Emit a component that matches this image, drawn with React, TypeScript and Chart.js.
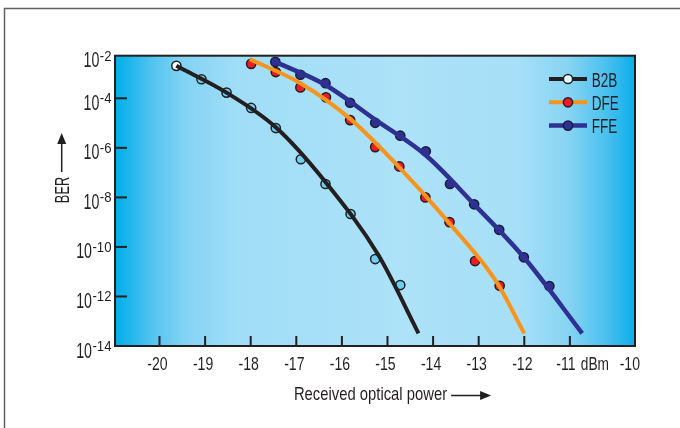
import { useEffect, useRef } from 'react';
import { Chart, registerables } from 'chart.js';

Chart.register(...registerables);

// ---------------- data ----------------
const seriesLabels = ['B2B', 'DFE', 'FFE'];

// measured points: received optical power (dBm) and log10(BER)
const b2bPower = [-19.63, -19.08, -18.53, -17.99, -17.45, -16.9, -16.36, -15.81, -15.27, -14.72];
const b2bLogBer = [-2.69, -3.23, -3.77, -4.39, -5.2, -6.46, -7.46, -8.67, -10.49, -11.54];
const dfePower = [-17.99, -17.45, -16.91, -16.35, -15.82, -15.27, -14.74, -14.17, -13.64, -13.08, -12.54];
const dfeLogBer = [-2.61, -2.94, -3.56, -3.96, -4.88, -5.97, -6.75, -8.0, -9.0, -10.57, -11.57];
const ffePower = [-17.46, -16.91, -16.36, -15.82, -15.27, -14.72, -14.16, -13.63, -13.1, -12.55, -12.01, -11.45];
const ffeLogBer = [-2.53, -3.05, -3.39, -4.18, -4.99, -5.51, -6.14, -7.46, -8.28, -9.31, -10.42, -11.58];

// fitted curves
const b2bFitPower = [-19.63, -18.53, -17.45, -16.36, -15.2, -14.32];
const b2bFitLogBer = [-2.69, -3.77, -5.17, -7.38, -10.33, -13.49];
const dfeFitPower = [-18.02, -16.91, -15.83, -14.74, -13.64, -12.61, -12.0];
const dfeFitLogBer = [-2.42, -3.39, -4.81, -6.79, -9.05, -11.41, -13.49];
const ffeFitPower = [-17.46, -16.36, -15.27, -14.16, -13.1, -12.01, -10.73];
const ffeFitLogBer = [-2.53, -3.46, -4.86, -6.3, -8.28, -10.42, -13.49];

// axes
const xTickValues = [-20, -19, -18, -17, -16, -15, -14, -13, -12, -11];
const xUnitLabel = 'dBm';
const xEndLabel = '-10';
const yTickExponents = [-2, -4, -6, -8, -10, -12, -14];
const xTitle = 'Received optical power';
const yTitle = 'BER';
const xMin = -20.976;
const xMax = -9.572;
const yMinExp = -14;
const yMaxExp = -2.28;

// ---------------- styles ----------------
const INK = '#231f20';
const FONT = '"Liberation Sans", Arial, sans-serif';
const lineColors = ['#231f20', '#f7941d', '#2e3192'];
const lineWidths = [4, 4, 4.5];
const markerFills = ['#6dcff6', '#ed1c24', '#2e3192'];
const markerBorders = ['#231f20', '#231f20', '#1b1b3a'];
const legendMarkerFills = ['#e4f6fd', '#ed1c24', '#2e3192'];

function toPoints(xs: number[], logs: number[]) {
  return xs.map((x, i) => ({ x, y: Math.pow(10, logs[i]) }));
}

function drawText(
  ctx: CanvasRenderingContext2D,
  s: string,
  x: number,
  y: number,
  size: number,
  sx: number,
  align: 'left' | 'center' | 'right',
  color: string = INK
) {
  ctx.save();
  ctx.font = `${size}px ${FONT}`;
  ctx.textBaseline = 'alphabetic';
  ctx.textAlign = 'left';
  const w = ctx.measureText(s).width * sx;
  const x0 = align === 'left' ? x : align === 'center' ? x - w / 2 : x - w;
  ctx.translate(x0, y);
  ctx.scale(sx, 1);
  ctx.fillStyle = color;
  ctx.fillText(s, 0, 0);
  ctx.restore();
  return w;
}

function arrowHead(ctx: CanvasRenderingContext2D, tipX: number, tipY: number, dx: number, dy: number, len: number, half: number) {
  const bx = tipX - dx * len;
  const by = tipY - dy * len;
  ctx.beginPath();
  ctx.moveTo(tipX, tipY);
  ctx.lineTo(bx - dy * half, by + dx * half);
  ctx.lineTo(bx + dy * half, by - dx * half);
  ctx.closePath();
  ctx.fill();
}

const decorPlugin = {
  id: 'decor',
  beforeDraw(chart: any) {
    const { ctx, chartArea: a } = chart;
    ctx.save();
    ctx.strokeStyle = '#5f6062';
    ctx.lineWidth = 1.5;
    ctx.beginPath();
    ctx.moveTo(4.5, chart.height);
    ctx.lineTo(4.5, 8.5);
    ctx.lineTo(chart.width, 8.5);
    ctx.stroke();
    const g = ctx.createLinearGradient(a.left, 0, a.right, 0);
    g.addColorStop(0, '#00aee9');
    g.addColorStop(0.025, '#1cb5ec');
    g.addColorStop(0.075, '#56c5f0');
    g.addColorStop(0.135, '#83d3f4');
    g.addColorStop(0.23, '#a0ddf7');
    g.addColorStop(0.548, '#ade2f8');
    g.addColorStop(0.779, '#a6dff7');
    g.addColorStop(0.87, '#88d4f3');
    g.addColorStop(0.94, '#4fc2ef');
    g.addColorStop(1, '#0caeea');
    ctx.fillStyle = g;
    ctx.fillRect(a.left, a.top, a.right - a.left, a.bottom - a.top);
    ctx.restore();
  },
  afterDatasetsDraw(chart: any) {
    const { ctx, chartArea: a, scales } = chart;
    const xs = scales.x;
    const ys = scales.y;
    ctx.save();
    ctx.strokeStyle = INK;
    ctx.fillStyle = INK;

    // x tick marks (inward) and labels
    ctx.lineWidth = 2;
    xTickValues.forEach((v) => {
      const px = xs.getPixelForValue(v);
      ctx.beginPath();
      ctx.moveTo(px, a.bottom);
      ctx.lineTo(px, a.bottom - 10);
      ctx.stroke();
      const off = v === -11 ? -4 : -2;
      drawText(ctx, String(v), px + off, a.bottom + 24, 18.5, 0.76, 'center');
    });
    drawText(ctx, xEndLabel, a.right + 5, a.bottom + 24, 18.5, 0.76, 'right');
    drawText(ctx, xUnitLabel, a.right - 26, a.bottom + 24, 18.5, 0.74, 'right');

    // y tick marks (inward) and labels
    yTickExponents.forEach((e) => {
      let py = ys.getPixelForValue(Math.pow(10, e));
      py = Math.min(Math.max(py, a.top), a.bottom);
      if (py > a.top + 2 && py < a.bottom - 2) {
        ctx.beginPath();
        ctx.moveTo(a.left, py);
        ctx.lineTo(a.left + 12, py);
        ctx.stroke();
      }
      const rightEdge = a.left - 3.5;
      const supW = drawText(ctx, String(e), rightEdge, py + 5, 15.5, 0.85, 'right');
      drawText(ctx, '10', rightEdge - supW - 0.5, py + 11.5, 21.5, 0.66, 'right');
    });

    // plot box
    ctx.lineWidth = 2;
    ctx.strokeRect(a.left, a.top, a.right - a.left, a.bottom - a.top);

    // x title with arrow
    const cx = (a.left + a.right) / 2 - 4.5;
    const tw = drawText(ctx, xTitle, cx, a.bottom + 54, 19, 0.78, 'center');
    const ax0 = cx + tw / 2 + 4;
    const ay = a.bottom + 49.5;
    ctx.lineWidth = 1.5;
    ctx.beginPath();
    ctx.moveTo(ax0, ay);
    ctx.lineTo(ax0 + 32, ay);
    ctx.stroke();
    arrowHead(ctx, ax0 + 40, ay, 1, 0, 11, 4.5);

    // y title rotated with arrow
    ctx.save();
    ctx.translate(69, 190);
    ctx.rotate(-Math.PI / 2);
    drawText(ctx, yTitle, 0, 0, 20, 0.64, 'center');
    ctx.restore();
    ctx.beginPath();
    ctx.moveTo(61.7, 172);
    ctx.lineTo(61.7, 142);
    ctx.stroke();
    arrowHead(ctx, 61.7, 133, 0, -1, 11, 4.5);

    // legend
    seriesLabels.forEach((name, i) => {
      const ry = a.top + 23.3 + i * 23.3;
      ctx.strokeStyle = lineColors[i];
      ctx.lineWidth = lineWidths[i];
      ctx.beginPath();
      ctx.moveTo(a.right - 86, ry);
      ctx.lineTo(a.right - 48, ry);
      ctx.stroke();
      ctx.beginPath();
      ctx.arc(a.right - 67, ry, 4.6, 0, Math.PI * 2);
      ctx.fillStyle = legendMarkerFills[i];
      ctx.fill();
      ctx.lineWidth = 1.5;
      ctx.strokeStyle = markerBorders[i];
      ctx.stroke();
      drawText(ctx, name, a.right - 43.3, ry + 7.5, 20.5, 0.66, 'left');
    });
    ctx.restore();
  },
};

export default function App() {
  const canvasRef = useRef<HTMLCanvasElement | null>(null);

  useEffect(() => {
    const canvas = canvasRef.current;
    if (!canvas) return;

    const fits = [
      toPoints(b2bFitPower, b2bFitLogBer),
      toPoints(dfeFitPower, dfeFitLogBer),
      toPoints(ffeFitPower, ffeFitLogBer),
    ];
    const marks = [
      toPoints(b2bPower, b2bLogBer),
      toPoints(dfePower, dfeLogBer),
      toPoints(ffePower, ffeLogBer),
    ];

    const lineSets = seriesLabels.map((name, i) => ({
      label: name + ' fit',
      data: fits[i],
      borderColor: lineColors[i],
      borderWidth: lineWidths[i],
      pointRadius: 0,
      fill: false,
      cubicInterpolationMode: 'monotone' as const,
    }));
    const markSets = seriesLabels.map((name, i) => ({
      label: name,
      data: marks[i],
      showLine: false,
      pointRadius: 4.6,
      pointBorderWidth: 1.5,
      pointBorderColor: markerBorders[i],
      pointBackgroundColor:
        i === 0 ? marks[i].map((_, j) => (j === 0 ? '#ffffff' : markerFills[i])) : markerFills[i],
    }));

    const chart = new Chart(canvas, {
      type: 'line',
      data: { datasets: [...lineSets, ...markSets] as any },
      options: {
        responsive: false,
        animation: false,
        devicePixelRatio: 1,
        layout: { padding: { left: 115, right: 45, top: 55.7, bottom: 82 } },
        plugins: { legend: { display: false }, tooltip: { enabled: false } },
        scales: {
          x: { type: 'linear', min: xMin, max: xMax, display: false },
          y: { type: 'logarithmic', min: Math.pow(10, yMinExp), max: Math.pow(10, yMaxExp), display: false },
        },
      },
      plugins: [decorPlugin],
    });
    return () => chart.destroy();
  }, []);

  return (
    <div style={{ position: 'fixed', left: 0, top: 0, width: 680, height: 428, background: '#ffffff' }}>
      <canvas ref={canvasRef} width={680} height={428} style={{ display: 'block' }} />
    </div>
  );
}
